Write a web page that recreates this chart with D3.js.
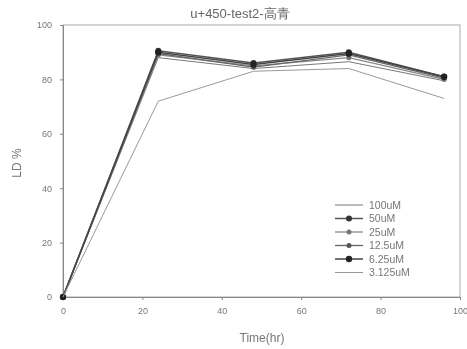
<!DOCTYPE html>
<html>
<head>
<meta charset="utf-8">
<script src="https://cdn.jsdelivr.net/npm/d3@7"></script>
<style>
  body { margin: 0; background: #fff; }
  svg { font-family: "Liberation Sans", Arial, sans-serif; filter: blur(0.5px); }
</style>
</head>
<body>
<script>
// data
var times = [0, 24, 48, 72, 96];
var seriesNames = ["100uM", "50uM", "25uM", "12.5uM", "6.25uM", "3.125uM"];
var v100 = [0, 88, 84, 86.5, 79.5];
var v50 = [0, 90.5, 86, 90, 81];
var v25 = [0, 89, 85, 88, 80];
var v12 = [0, 89.5, 84.5, 89, 80.5];
var v6 = [0, 90, 85.5, 89.5, 81];
var v3 = [0, 72, 83, 84, 73];
var xTicks = [0, 20, 40, 60, 80, 100];
var yTicks = [0, 20, 40, 60, 80, 100];

var series = [
  {name: seriesNames[0], values: v100, stroke: "#777", sw: 1, r: 0, fill: "none"},
  {name: seriesNames[1], values: v50, stroke: "#555", sw: 1.5, r: 3, fill: "#333"},
  {name: seriesNames[2], values: v25, stroke: "#888", sw: 1.3, r: 2.5, fill: "#777"},
  {name: seriesNames[3], values: v12, stroke: "#666", sw: 1.3, r: 2.5, fill: "#555"},
  {name: seriesNames[4], values: v6, stroke: "#444", sw: 1.5, r: 3.2, fill: "#222"},
  {name: seriesNames[5], values: v3, stroke: "#999", sw: 1, r: 0, fill: "none"}
];

var width = 467, height = 349;
var margin = {top: 25, right: 7, bottom: 52, left: 63};

var svg = d3.select("body").append("svg")
    .attr("width", width)
    .attr("height", height);

var x = d3.scaleLinear().domain([0, 100]).range([margin.left, width - margin.right]);
var y = d3.scaleLinear().domain([0, 100]).range([height - margin.bottom, margin.top]);

// frame
svg.append("rect")
    .attr("x", x(0)).attr("y", y(100))
    .attr("width", x(100) - x(0)).attr("height", y(0) - y(100))
    .attr("fill", "none").attr("stroke", "#aaa").attr("stroke-width", 1);

var xAxis = svg.append("g")
    .attr("transform", "translate(0," + y(0) + ")")
    .call(d3.axisBottom(x).tickValues(xTicks).tickSize(3).tickPadding(8));
var yAxis = svg.append("g")
    .attr("transform", "translate(" + x(0) + ",0)")
    .call(d3.axisLeft(y).tickValues(yTicks).tickSize(3).tickPadding(8));

[xAxis, yAxis].forEach(function(a) {
  a.select(".domain").attr("stroke", "#888");
  a.selectAll(".tick line").attr("stroke", "#888");
  a.selectAll(".tick text").attr("fill", "#777").style("font-size", "9px");
});

svg.append("text")
    .attr("x", 240).attr("y", 18)
    .attr("text-anchor", "middle")
    .attr("fill", "#666")
    .style("font-size", "13px")
    .text("u+450-test2-高青");

svg.append("text")
    .attr("x", 262).attr("y", 342)
    .attr("text-anchor", "middle")
    .attr("fill", "#777")
    .style("font-size", "12px")
    .text("Time(hr)");

svg.append("text")
    .attr("transform", "translate(21,163) rotate(-90)")
    .attr("text-anchor", "middle")
    .attr("fill", "#777")
    .style("font-size", "12px")
    .text("LD %");

var line = d3.line()
    .x(function(d, i) { return x(times[i]); })
    .y(function(d) { return y(d); });

series.forEach(function(s) {
  svg.append("path")
      .datum(s.values)
      .attr("d", line)
      .attr("fill", "none")
      .attr("stroke", s.stroke)
      .attr("stroke-width", s.sw);
  if (s.r > 0) {
    svg.selectAll(null)
        .data(s.values)
        .enter().append("circle")
        .attr("cx", function(d, i) { return x(times[i]); })
        .attr("cy", function(d) { return y(d); })
        .attr("r", s.r)
        .attr("fill", s.fill);
  }
});

// legend
var legend = svg.append("g").selectAll("g")
    .data(series)
    .enter().append("g")
    .attr("transform", function(d, i) { return "translate(335," + (205 + i * 13.5) + ")"; });
legend.append("line")
    .attr("x1", 0).attr("x2", 28)
    .attr("stroke", function(d) { return d.stroke; })
    .attr("stroke-width", function(d) { return d.sw; });
legend.filter(function(d) { return d.r > 0; })
    .append("circle")
    .attr("cx", 14).attr("r", function(d) { return d.r; })
    .attr("fill", function(d) { return d.fill; });
legend.append("text")
    .attr("x", 34).attr("dy", "0.35em")
    .attr("fill", "#777")
    .style("font-size", "10.5px")
    .text(function(d) { return d.name; });
</script>
</body>
</html>
